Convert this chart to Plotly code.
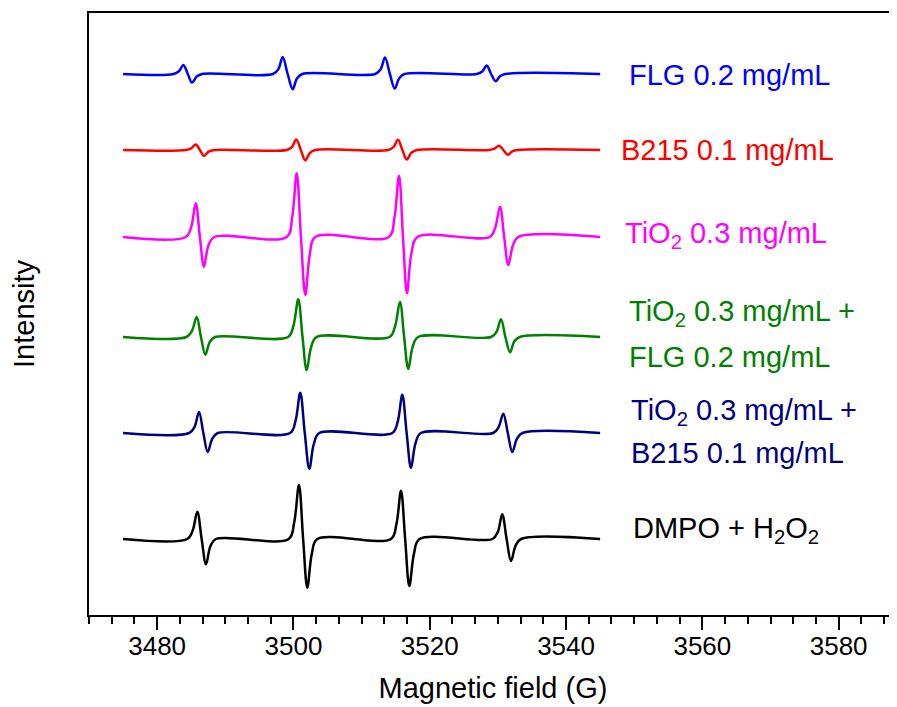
import plotly.graph_objects as go

# Magnetic field (G) and intensity (a.u.) key points
x_flg = [3475.0, 3482.4, 3483.2, 3483.84, 3484.5, 3485.11, 3485.8, 3486.6,
         3497.0, 3497.8, 3498.42, 3499.15, 3499.89, 3500.5, 3501.3,
         3512.0, 3512.8, 3513.43, 3514.15, 3514.86, 3515.5, 3516.3,
         3526.9, 3527.7, 3528.36, 3529.0, 3529.68, 3530.3, 3531.1, 3545.0]
y_flg = [541, 541, 543.7, 550, 541, 532.4, 538.4, 541,
         541, 546.1, 558, 541, 525.7, 536.4, 541,
         541, 545.9, 557.4, 541, 526.4, 536.6, 541,
         541, 543.5, 549.4, 541, 533.7, 538.8, 541, 541]

x_b215 = [3475.0, 3484.2, 3485.0, 3485.66, 3486.27, 3486.87, 3487.5, 3488.4,
          3499.0, 3499.8, 3500.42, 3501.08, 3501.74, 3502.4, 3503.2,
          3513.9, 3514.7, 3515.34, 3515.98, 3516.62, 3517.3, 3518.1,
          3528.7, 3529.5, 3530.16, 3530.8, 3531.44, 3532.1, 3532.9, 3545.0]
y_b215 = [465, 465, 466.7, 470.6, 465, 459, 463.2, 465,
          465, 468.2, 475.6, 465, 454.6, 461.9, 465,
          465, 468.1, 475.3, 465, 455.6, 462.2, 465,
          465, 466.3, 469.3, 465, 460.3, 463.6, 465, 465]

x_tio2 = [3475.0, 3484.2, 3485.0, 3485.66, 3486.27, 3486.87, 3487.5, 3488.4,
          3499.0, 3499.8, 3500.48, 3501.1, 3501.74, 3502.4, 3503.2,
          3514.0, 3514.8, 3515.49, 3516.07, 3516.66, 3517.3, 3518.2,
          3528.8, 3529.6, 3530.31, 3530.92, 3531.53, 3532.2, 3533.0, 3545.0]
y_tio2 = [378, 378, 388.1, 411.7, 378, 348.3, 369.1, 378,
          378, 397.1, 441.7, 378, 320, 360.6, 378,
          378, 396.4, 439.3, 378, 321.7, 361.1, 378,
          378, 387.1, 408.3, 378, 350, 369.6, 378, 378]

x_tio2_flg = [3475.0, 3484.3, 3485.1, 3485.80, 3486.43, 3487.07, 3487.7, 3488.5,
              3499.2, 3500.0, 3500.71, 3501.33, 3501.94, 3502.6, 3503.4,
              3514.1, 3514.9, 3515.63, 3516.24, 3516.85, 3517.5, 3518.3,
              3529.0, 3529.8, 3530.45, 3531.1, 3531.78, 3532.4, 3533.2, 3545.0]
y_tio2_flg = [278, 278, 284, 298, 278, 260.3, 272.7, 278,
              278, 289.3, 315.7, 278, 244.7, 268, 278,
              278, 288.5, 313, 278, 246, 268.4, 278,
              278, 283.3, 295.7, 278, 262.7, 273.4, 278, 278]

x_tio2_b215 = [3475.0, 3484.7, 3485.5, 3486.14, 3486.78, 3487.42, 3488.1, 3488.9,
               3499.5, 3500.3, 3501.0, 3501.66, 3502.33, 3503.0, 3503.8,
               3514.5, 3515.3, 3515.97, 3516.61, 3517.25, 3517.9, 3518.7,
               3529.3, 3530.1, 3530.79, 3531.45, 3532.11, 3532.8, 3533.6, 3545.0]
y_tio2_b215 = [182, 182, 188.3, 203, 182, 163, 176.3, 182,
               182, 194.1, 222.3, 182, 146.3, 171.3, 182,
               182, 193.5, 220.3, 182, 147, 171.5, 182,
               182, 187.8, 201.3, 182, 163, 176.3, 182, 182]

x_dmpo = [3475.0, 3484.4, 3485.2, 3485.89, 3486.53, 3487.17, 3487.8, 3488.6,
          3499.3, 3500.1, 3500.81, 3501.42, 3502.03, 3502.7, 3503.5,
          3514.3, 3515.1, 3515.78, 3516.39, 3517.0, 3517.7, 3518.5,
          3529.2, 3530.0, 3530.63, 3531.28, 3531.92, 3532.6, 3533.4, 3545.0]
y_dmpo = [76, 76, 84.2, 103.3, 76, 50.7, 68.4, 76,
          76, 92.2, 130, 76, 27.3, 61.4, 76,
          76, 90.5, 124.3, 76, 29, 61.9, 76,
          76, 83.4, 100.7, 76, 54, 69.4, 76, 76]

series = [
    (x_flg, y_flg, "#0000FF"),
    (x_b215, y_b215, "#FF0000"),
    (x_tio2, y_tio2, "#FF00FF"),
    (x_tio2_flg, y_tio2_flg, "#008000"),
    (x_tio2_b215, y_tio2_b215, "#000080"),
    (x_dmpo, y_dmpo, "#000000"),
]

# label text, colour, (x, y) anchor in data units
labels = [
    ("FLG 0.2 mg/mL", "#0000FF", 3548.9, 540),
    ("B215 0.1 mg/mL", "#FF0000", 3547.8, 465),
    ("TiO<sub>2</sub> 0.3 mg/mL", "#FF00FF", 3548.4, 380),
    ("TiO<sub>2</sub> 0.3 mg/mL +", "#008000", 3549.0, 302),
    ("FLG 0.2 mg/mL", "#008000", 3549.0, 258),
    ("TiO<sub>2</sub> 0.3 mg/mL +", "#000080", 3549.3, 203.5),
    ("B215 0.1 mg/mL", "#000080", 3549.3, 161.7),
    ("DMPO + H<sub>2</sub>O<sub>2</sub>", "#000000", 3549.5, 85),
]

FONT = "Liberation Sans, Arial, sans-serif"

fig = go.Figure()
for xs, ys, col in series:
    fig.add_trace(go.Scatter(x=xs, y=ys, mode="lines",
                             line=dict(color=col, width=2.5, shape="spline", smoothing=1.0),
                             showlegend=False, hoverinfo="skip"))

for txt, col, lx, ly in labels:
    fig.add_annotation(x=lx, y=ly, xref="x", yref="y", text=txt, showarrow=False,
                       xanchor="left", yanchor="middle",
                       font=dict(family=FONT, size=29, color=col))

fig.update_layout(
    width=889, height=699,
    margin=dict(l=81, r=0, t=5, b=92),
    paper_bgcolor="white", plot_bgcolor="white",
    font=dict(family=FONT, color="black"),
    xaxis=dict(range=[3470, 3588.56], showgrid=False, zeroline=False,
               showline=True, linecolor="black", linewidth=2, mirror=True,
               ticks="outside", ticklen=13, tickwidth=2, tickcolor="black",
               tick0=3480, dtick=20, ticklabelstandoff=-6,
               minor=dict(ticks="outside", ticklen=7, tickwidth=2, tickcolor="black",
                          tick0=3470, dtick=20 / 6, showgrid=False),
               tickfont=dict(family=FONT, size=26, color="black"),
               title=dict(text="Magnetic field (G)", standoff=17,
                          font=dict(family=FONT, size=29, color="black"))),
    yaxis=dict(range=[0, 602], showgrid=False, zeroline=False,
               showline=True, linecolor="black", linewidth=2, mirror=False,
               showticklabels=False, ticks="",
               title=dict(text="Intensity", standoff=45,
                          font=dict(family=FONT, size=29, color="black"))),
)

fig.write_html("out.html")
